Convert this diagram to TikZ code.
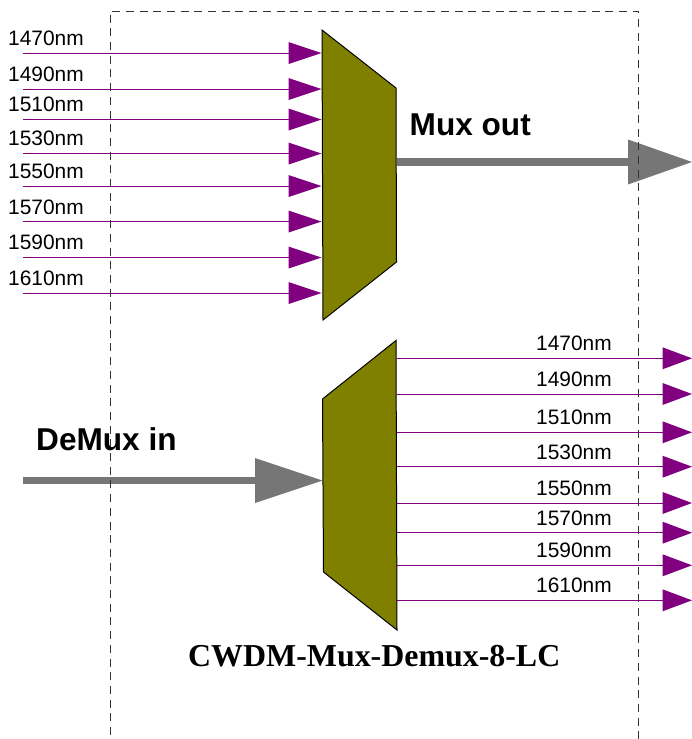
\documentclass[tikz,border=0pt]{standalone}
\usepackage{fontspec}
\setmainfont{Liberation Sans}
\newfontfamily\titlefont{Liberation Serif}
\usetikzlibrary{arrows.meta}
\definecolor{sigpurple}{HTML}{800080}
\definecolor{biggray}{HTML}{767676}
\definecolor{muxolive}{HTML}{808000}
\definecolor{boundary}{HTML}{333333}
\tikzset{
  wave/.style={draw=sigpurple,line width=1pt,-{Triangle[length=33pt,width=22pt,line width=0pt,fill=sigpurple]}},
  waveout/.style={draw=sigpurple,line width=1pt,-{Triangle[length=29.5pt,width=22pt,line width=0pt,fill=sigpurple]}},
  trunk/.style={draw=biggray,line width=7.5pt,-{Triangle[length=64pt,width=45pt,line width=0pt,fill=biggray]}},
  muxbody/.style={draw=black,line width=1pt,fill=muxolive,line join=miter},
  wavelabel/.style={inner sep=0pt,anchor=base west,font=\fontsize{20.9}{24}\selectfont},
  biglabel/.style={inner sep=0pt,anchor=base west,font=\fontsize{31.6}{36}\selectfont\bfseries},
  titlelabel/.style={inner sep=0pt,anchor=base west,font=\fontsize{31.9}{36}\selectfont\titlefont\bfseries},
  boundaryline/.style={draw=boundary,line width=1pt,dash pattern=on 8pt off 5.7pt}
}
\begin{document}
\begin{tikzpicture}[x=1pt,y=-1pt]
\useasboundingbox (0,0) rectangle (692,739);
% mux and demux bodies
\draw[muxbody] (322,30) -- (396,88) -- (396.5,262) -- (323,320) -- cycle;
\draw[muxbody] (396,340.5) -- (322.5,399) -- (323.5,572) -- (397,630) -- cycle;
% mux inputs
\foreach \i/\y/\b/\t in {1/53/45/1470nm,2/89/81/1490nm,3/119.5/111/1510nm,4/153.5/145/1530nm,5/186/178/1550nm,6/221.5/214/1570nm,7/257.5/249/1590nm,8/293/285/1610nm}{
  \node[wavelabel] (inlabel\i) at (8,\b) {\t};
  \coordinate (inS\i) at (23,\y);
  \coordinate (inE\i) at (321.5,\y);
  \draw[wave] (inS\i) -- (inE\i);
}
% demux outputs
\foreach \i/\y/\b/\t in {1/358.3/350/1470nm,2/394/386/1490nm,3/432.3/424.3/1510nm,4/466.7/459.3/1530nm,5/503/495/1550nm,6/532.7/525/1570nm,7/565.3/557.3/1590nm,8/600.3/592.3/1610nm}{
  \node[wavelabel] (outlabel\i) at (536,\b) {\t};
  \coordinate (outS\i) at (397,\y);
  \coordinate (outE\i) at (692,\y);
  \draw[waveout] (outS\i) -- (outE\i);
}
% trunks
\coordinate (muxout) at (396.5,162);
\coordinate (muxoutE) at (692,162);
\draw[trunk] (muxout) -- (muxoutE);
\coordinate (demuxinS) at (23,480.5);
\coordinate (demuxin) at (322.5,480.5);
\draw[trunk,-{Triangle[length=67.5pt,width=45pt,line width=0pt,fill=biggray]}] (demuxinS) -- (demuxin);
% labels
\node[biglabel] (muxlabel) at (409.5,135) {Mux out};
\node[biglabel] (demuxlabel) at (36,450) {DeMux in};
\node[titlelabel] (title) at (188,666) {CWDM-Mux-Demux-8-LC};
% dashed boundary
\draw[boundaryline] (110,735) -- (110,11) -- (638.5,11) -- (638.5,739);
\end{tikzpicture}
\end{document}
